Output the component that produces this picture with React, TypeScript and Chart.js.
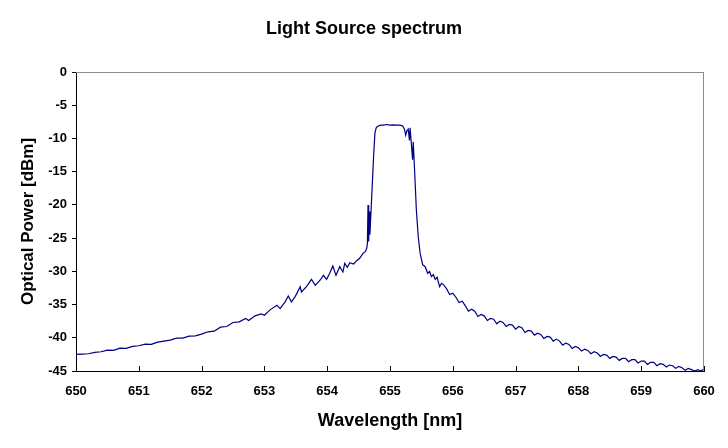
import React, { useEffect, useRef } from "react";
import { Chart, registerables } from "chart.js";

Chart.register(...registerables);

const chartTitle = "Light Source spectrum";
const xAxisTitle = "Wavelength [nm]";
const yAxisTitle = "Optical Power [dBm]";

const xMin = 650;
const xMax = 660;
const xStep = 1;
const yMin = -45;
const yMax = 0;
const yStep = 5;

// [wavelength nm, power dBm]
const blueTail: [number, number][] = [
  [650.0, -42.5], [650.1, -42.45], [650.2, -42.4], [650.3, -42.2], [650.4, -42.1],
  [650.5, -41.85], [650.6, -41.9], [650.7, -41.55], [650.8, -41.6], [650.9, -41.3],
  [651.0, -41.2], [651.1, -40.95], [651.2, -41.0], [651.3, -40.65], [651.4, -40.5],
  [651.5, -40.35], [651.6, -40.05], [651.7, -40.05], [651.8, -39.75], [651.9, -39.7],
  [652.0, -39.45], [652.1, -39.1], [652.2, -39.0], [652.3, -38.4], [652.4, -38.3],
  [652.5, -37.7], [652.6, -37.6], [652.7, -37.1], [652.75, -37.4], [652.85, -36.7],
  [652.95, -36.4], [653.0, -36.6], [653.09, -35.8], [653.2, -35.1], [653.25, -35.6],
  [653.33, -34.6], [653.38, -33.7], [653.43, -34.6], [653.49, -33.8], [653.57, -32.3],
  [653.59, -33.1], [653.67, -32.3], [653.75, -31.2], [653.81, -32.1], [653.89, -31.3],
  [653.94, -30.6], [653.99, -31.2], [654.04, -30.3], [654.09, -29.2], [654.14, -30.6],
  [654.2, -29.3], [654.25, -30.1], [654.28, -28.8], [654.32, -29.4], [654.36, -28.7],
  [654.42, -28.9], [654.47, -28.4], [654.52, -28.0], [654.57, -27.3], [654.61, -27.0],
];

const peak: [number, number][] = [
  [654.63, -26.5], [654.64, -25.8], [654.65, -20.0], [654.66, -25.5], [654.67, -21.0],
  [654.68, -24.5], [654.7, -20.5], [654.72, -16.5], [654.74, -12.5], [654.76, -9.2],
  [654.78, -8.4], [654.8, -8.2], [654.85, -8.0], [654.9, -8.0], [654.95, -7.9],
  [655.0, -8.0], [655.05, -7.95], [655.1, -8.0], [655.15, -8.0], [655.2, -8.1],
  [655.23, -8.6], [655.25, -9.5], [655.27, -8.8], [655.29, -8.6], [655.31, -10.3],
  [655.32, -8.4], [655.34, -10.8], [655.36, -13.2], [655.37, -10.5], [655.39, -14.5],
  [655.42, -20.8], [655.45, -24.8], [655.48, -27.3], [655.52, -29.0], [655.56, -29.3],
  [655.6, -30.3], [655.63, -30.0], [655.66, -30.8], [655.69, -30.5], [655.72, -31.2],
  [655.75, -30.9], [655.79, -32.3], [655.82, -31.8], [655.85, -32.0],
];

const redTail: [number, number][] = [
  [655.9, -32.6], [655.95, -33.5], [656.0, -33.3], [656.05, -33.9], [656.1, -34.7],
  [656.15, -34.5], [656.2, -35.2], [656.25, -36.0], [656.3, -35.7], [656.35, -36.0],
  [656.4, -36.8], [656.45, -36.5], [656.5, -36.7], [656.55, -37.4], [656.6, -37.1],
  [656.65, -37.2], [656.7, -37.9], [656.75, -37.5], [656.8, -37.7], [656.85, -38.3],
  [656.9, -38.0], [656.95, -38.1], [657.0, -38.7], [657.05, -38.3], [657.1, -38.5],
  [657.15, -39.2], [657.2, -38.9], [657.25, -39.0], [657.3, -39.6], [657.35, -39.3],
  [657.4, -39.5], [657.45, -40.1], [657.5, -39.8], [657.55, -39.9], [657.6, -40.5],
  [657.65, -40.2], [657.7, -40.5], [657.75, -41.1], [657.8, -40.8], [657.85, -41.0],
  [657.9, -41.6], [657.95, -41.3], [658.0, -41.5], [658.05, -42.0], [658.1, -41.7],
  [658.15, -41.9], [658.2, -42.4], [658.25, -42.1], [658.3, -42.3], [658.35, -42.8],
  [658.4, -42.5], [658.45, -42.6], [658.5, -43.1], [658.55, -42.8], [658.6, -42.9],
  [658.65, -43.4], [658.7, -43.1], [658.75, -43.1], [658.8, -43.6], [658.85, -43.3],
  [658.9, -43.3], [658.95, -43.8], [659.0, -43.5], [659.05, -43.5], [659.1, -44.0],
  [659.15, -43.7], [659.2, -43.7], [659.25, -44.2], [659.3, -43.9], [659.35, -44.0],
  [659.4, -44.4], [659.45, -44.1], [659.5, -44.2], [659.55, -44.6], [659.6, -44.3],
  [659.65, -44.5], [659.7, -44.9], [659.75, -44.6], [659.8, -44.8], [659.85, -45.0],
  [659.9, -44.8], [659.95, -45.0], [660.0, -44.7],
];

const FONT = "'Liberation Sans', Arial, sans-serif";

const frameAndTicks = {
  id: "frameAndTicks",
  afterDatasetsDraw(chart: any) {
    const { ctx, chartArea, scales } = chart;
    ctx.save();
    ctx.strokeStyle = "#8c8c8c";
    ctx.lineWidth = 1;
    ctx.beginPath();
    ctx.moveTo(chartArea.left, Math.round(chartArea.top) + 0.5);
    ctx.lineTo(chartArea.right, Math.round(chartArea.top) + 0.5);
    ctx.moveTo(Math.round(chartArea.right) - 0.5, chartArea.top);
    ctx.lineTo(Math.round(chartArea.right) - 0.5, chartArea.bottom);
    ctx.stroke();
    // inward tick marks on x axis
    ctx.strokeStyle = "#000";
    ctx.beginPath();
    const xs = scales.x;
    xs.ticks.forEach((_t: any, i: number) => {
      const px = Math.round(xs.getPixelForTick(i)) + 0.5;
      ctx.moveTo(px, chartArea.bottom);
      ctx.lineTo(px, chartArea.bottom - 5);
    });
    ctx.stroke();
    ctx.restore();
  },
};

export default function App() {
  const ref = useRef<HTMLCanvasElement | null>(null);
  useEffect(() => {
    if (!ref.current) return;
    const points = [...blueTail, ...peak, ...redTail].map(([x, y]) => ({ x, y }));
    const chart = new Chart(ref.current, {
      type: "line",
      data: {
        datasets: [
          {
            data: points,
            borderColor: "#000080",
            borderWidth: 1.2,
            pointRadius: 0,
            tension: 0,
            fill: false,
          },
        ],
      },
      options: {
        animation: false,
        responsive: false,
        layout: { padding: { left: 24, right: 24, top: 0, bottom: 0 } },
        plugins: {
          legend: { display: false },
          tooltip: { enabled: false },
          title: {
            display: true,
            text: chartTitle,
            color: "#000",
            font: { family: FONT, size: 18, weight: "bold" },
            padding: { top: 18.4, bottom: 32 },
          },
        },
        scales: {
          x: {
            type: "linear",
            min: xMin,
            max: xMax,
            afterFit(scale: any) {
              scale.height = 77;
            },
            ticks: {
              stepSize: xStep,
              color: "#000",
              font: { family: FONT, size: 13, weight: "bold" },
              padding: 13,
              maxRotation: 0,
              callback: (v: any) => String(v),
            },
            grid: { display: false, drawTicks: false },
            border: { display: true, color: "#000", width: 1 },
            title: {
              display: true,
              text: xAxisTitle,
              color: "#000",
              font: { family: FONT, size: 18, weight: "bold" },
              padding: { top: 0, bottom: 16 },
            },
          },
          y: {
            type: "linear",
            min: yMin,
            max: yMax,
            afterFit(scale: any) {
              scale.width = 52;
            },
            ticks: {
              stepSize: yStep,
              color: "#000",
              font: { family: FONT, size: 13, weight: "bold" },
              padding: 5,
              callback: (v: any) => String(v),
            },
            grid: {
              display: true,
              drawOnChartArea: false,
              drawTicks: true,
              tickLength: 4,
              color: "#000",
            },
            border: { display: true, color: "#000", width: 1 },
            title: {
              display: true,
              text: yAxisTitle,
              color: "#000",
              font: { family: FONT, size: 17, weight: "bold" },
              padding: { top: -6, bottom: 0 },
            },
          },
        },
      },
      plugins: [frameAndTicks],
    });
    return () => chart.destroy();
  }, []);
  return (
    <div style={{ position: "fixed", left: 0, top: 0, width: 728, height: 448, background: "#fff" }}>
      <canvas ref={ref} width={728} height={448} style={{ display: "block" }} />
    </div>
  );
}
